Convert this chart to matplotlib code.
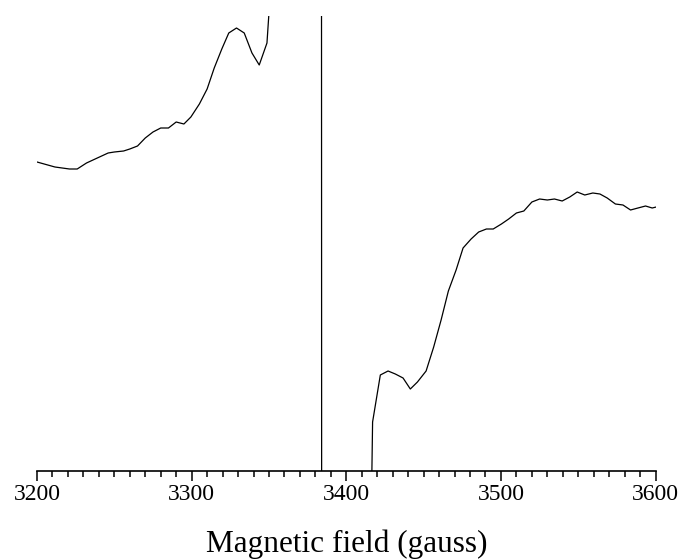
import matplotlib
matplotlib.use("Agg")
import matplotlib.pyplot as plt
from matplotlib.ticker import MultipleLocator

# EPR spectrum, arbitrary intensity units (clipped at top and bottom)
field = [3200, 3211.6, 3221, 3226, 3232, 3246, 3250, 3256, 3260, 3265,
         3270, 3275, 3280, 3285, 3290, 3295, 3299.5, 3305, 3310, 3314.6,
         3319.5, 3324, 3329, 3334, 3339, 3343.7, 3348.7, 3350.5, 3365,
         3383.9, 3384.2, 3400, 3416.5, 3417, 3422, 3427, 3431.7, 3436.7,
         3441.4, 3446, 3451.6, 3456.5, 3461.3, 3466, 3471, 3475.5, 3480.7,
         3485.6, 3490.6, 3495, 3500.3, 3505, 3510, 3514.8, 3520, 3525,
         3530, 3534.6, 3539.6, 3544.5, 3549.3, 3554.2, 3559.4, 3564, 3568.7,
         3574, 3578.9, 3583.8, 3588.6, 3593.5, 3597.8, 3600.4]
signal = [309, 304, 302, 302, 308, 318, 319, 320, 322, 325,
          333, 339, 343, 343, 349, 347, 354, 367, 382, 403,
          422, 438, 443, 438, 418, 406, 428, 470, 1200,
          900, -900, -1500, -5, 49, 96, 100, 97, 93,
          82, 89, 100, 124, 151, 180, 201, 223, 232,
          239, 242, 242, 247, 252, 258, 260, 269, 272,
          271, 272, 270, 274, 279, 276, 278, 277, 273,
          267, 266, 261, 263, 265, 263, 264]

plt.rcParams['font.family'] = ['Liberation Serif', 'DejaVu Serif']

fig = plt.figure(figsize=(6.82, 5.59), dpi=100)
ax = fig.add_axes([37 / 682, 88 / 559, 618.6 / 682, 455 / 559])
ax.plot(field, signal, color='black', lw=0.9)

ax.set_xlim(3200, 3600)
ax.set_ylim(0, 455)
ax.set_yticks([])
for s in ['top', 'left', 'right']:
    ax.spines[s].set_visible(False)
ax.spines['bottom'].set_linewidth(1.2)

ax.xaxis.set_major_locator(MultipleLocator(100))
ax.xaxis.set_minor_locator(MultipleLocator(10))
ax.tick_params(axis='x', which='major', length=7, width=1.1, labelsize=17, pad=2)
ax.tick_params(axis='x', which='minor', length=4, width=1.1)
ax.set_xlabel('Magnetic field (gauss)', fontsize=22.5, labelpad=18)

plt.savefig('out.png')
plt.close()
